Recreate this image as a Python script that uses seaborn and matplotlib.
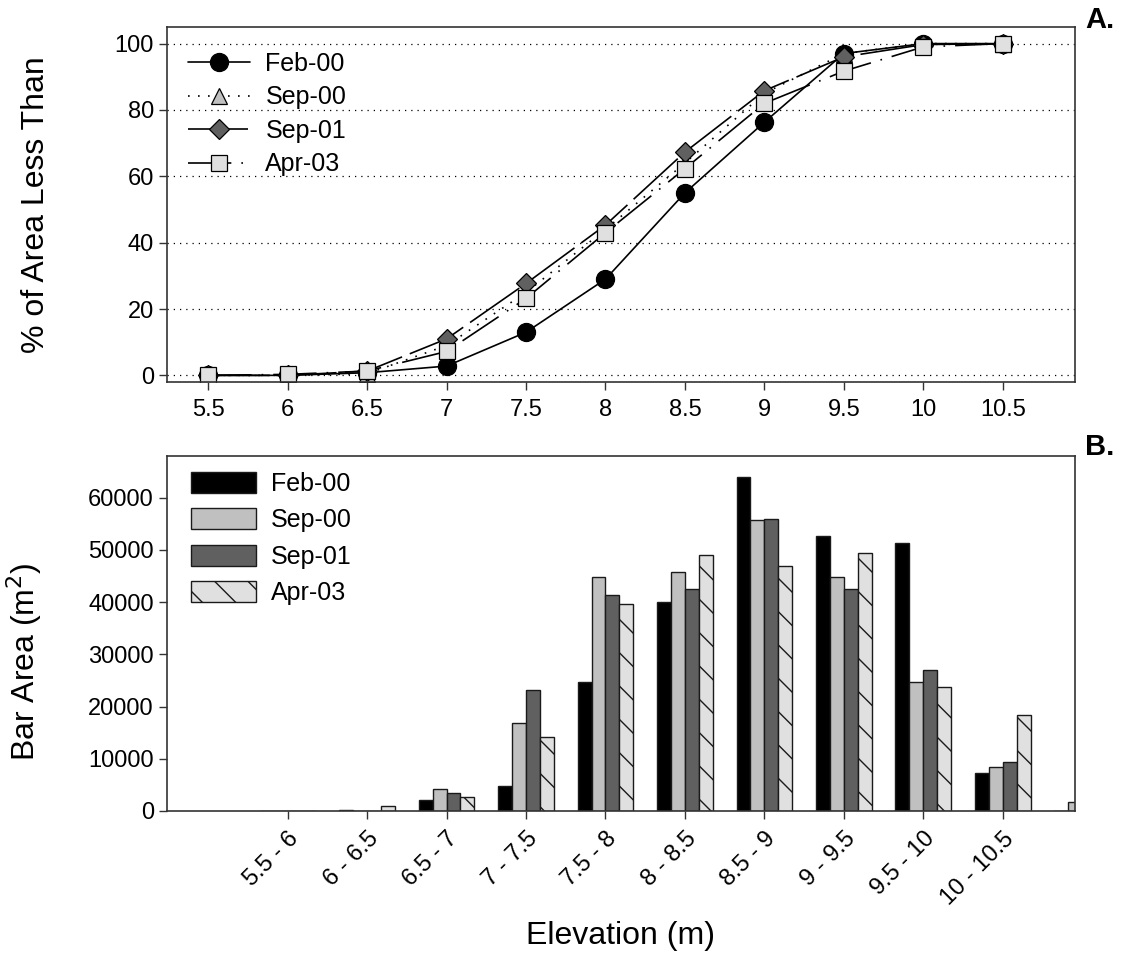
import matplotlib
matplotlib.use('Agg')
import matplotlib.pyplot as plt
import seaborn as sns
import pandas as pd
from matplotlib.patches import Patch
from matplotlib.lines import Line2D

surveys = ['Feb-00', 'Sep-00', 'Sep-01', 'Apr-03']

# A. cumulative % of bar area lower than each elevation
elevation = [5.5, 6, 6.5, 7, 7.5, 8, 8.5, 9, 9.5, 10, 10.5]
feb00_pct = [0, 0, 0.8, 2.8, 13, 29, 55, 76.3, 97, 100, 100]
sep00_pct = [0, 0, 0.5, 9, 25, 44, 64, 85, 97, 100, 100]
sep01_pct = [0, 0, 1.3, 11, 27.7, 45.3, 67.3, 85.8, 96, 99.7, 100]
apr03_pct = [0, 0.3, 1.3, 7.2, 23.2, 43, 62.3, 82, 91.7, 99, 100]

# B. bar area per 0.5 m elevation bin (bins placed at their upper bound)
bin_labels = ['5.5 - 6', '6 - 6.5', '6.5 - 7', '7 - 7.5', '7.5 - 8', '8 - 8.5',
              '8.5 - 9', '9 - 9.5', '9.5 - 10', '10 - 10.5', '10.5 - 11']
bin_top = [6, 6.5, 7, 7.5, 8, 8.5, 9, 9.5, 10, 10.5, 11]
feb00_area = [0, 200, 2100, 4800, 24700, 40000, 63900, 52700, 51400, 7300, 0]
sep00_area = [0, 0, 4200, 16800, 44800, 45800, 55700, 44900, 24800, 8400, 1800]
sep01_area = [0, 0, 3400, 23100, 41300, 42600, 55900, 42600, 27000, 9400, 0]
apr03_area = [0, 900, 2600, 14100, 39700, 49000, 46900, 49500, 23800, 18300, 0]

fills = ['#000000', '#c0c0c0', '#606060', '#e0e0e0']
edge = '#1a1a1a'

sns.set_theme(style='ticks')
plt.rcParams['font.family'] = ['Liberation Sans', 'DejaVu Sans']
plt.rcParams['text.color'] = 'black'
plt.rcParams['axes.labelcolor'] = 'black'
plt.rcParams['hatch.linewidth'] = 1.0
plt.rcParams['hatch.color'] = 'black'

fig = plt.figure(figsize=(11.22, 9.61), dpi=100)
ax1 = fig.add_axes([0.1488, 0.6025, 0.8093, 0.3694])
ax2 = fig.add_axes([0.1488, 0.1561, 0.8093, 0.3694])
xmin, xmax = 5.24, 10.955

# ---- panel A ----
line_styles = ['-', (0, (1, 5)), (0, (36, 5)), (0, (26, 6, 1, 6))]
markers = ['o', '^', 'D', 's']
msizes = [13, 11, 10, 11]
pct_series = [feb00_pct, sep00_pct, sep01_pct, apr03_pct]

for name, vals, ls, mk, ms, fc in zip(surveys, pct_series, line_styles, markers, msizes, fills):
    sns.lineplot(x=elevation, y=vals, ax=ax1, color='black', linestyle=ls, lw=1.2,
                 marker=mk, markersize=ms, markerfacecolor=fc, markeredgecolor='black',
                 markeredgewidth=0.9, label=name)

ax1.set_xlim(xmin, xmax)
ax1.set_ylim(-2, 105)
ax1.set_xticks(elevation)
ax1.set_xticklabels([f'{v:g}' for v in elevation])
ax1.set_yticks([0, 20, 40, 60, 80, 100])
ax1.yaxis.grid(True, linestyle=(0, (1, 4)), color='black', lw=0.9)
ax1.set_axisbelow(True)
ax1.set_ylabel('% of Area Less Than', fontsize=23)
ax1.yaxis.set_label_coords(-0.128, 0.5)
ax1.set_xlabel('')

h1 = [Line2D([0], [0], color='black', linestyle=ls, lw=1.2, marker=mk, markersize=ms,
             markerfacecolor=fc, markeredgecolor='black', markeredgewidth=0.9)
      for ls, mk, ms, fc in zip(line_styles, markers, msizes, fills)]
ax1.legend(h1, surveys, loc='upper left', bbox_to_anchor=(0.023, 0.93), frameon=False,
           fontsize=18, handlelength=2.5, handletextpad=0.6, labelspacing=0.38,
           borderpad=0, borderaxespad=0, numpoints=1)

# ---- panel B ----
area_df = pd.DataFrame({
    'bin_top': bin_top * 4,
    'area': feb00_area + sep00_area + sep01_area + apr03_area,
    'survey': [s for s in surveys for _ in bin_top],
})
sns.barplot(data=area_df, x='bin_top', y='area', hue='survey', hue_order=surveys,
            palette=dict(zip(surveys, fills)), native_scale=True, width=0.7,
            saturation=1, errorbar=None, edgecolor=edge, linewidth=1, ax=ax2, legend=False)
for bar in ax2.containers[3]:
    bar.set_hatch('\\')

shown = [(b, lab) for b, lab in zip(bin_top, bin_labels) if b < xmax]
ax2.set_xlim(xmin, xmax)
ax2.set_ylim(0, 68000)
ax2.set_xticks([b for b, _ in shown])
ax2.set_xticklabels([lab for _, lab in shown], rotation=45, ha='right', rotation_mode='anchor')
ax2.set_yticks(range(0, 60001, 10000))
ax2.set_ylabel('Bar Area (m$^2$)', fontsize=23)
ax2.yaxis.set_label_coords(-0.135, 0.42)
ax2.set_xlabel('Elevation (m)', fontsize=23)
ax2.xaxis.set_label_coords(0.5, -0.31)

h2 = [Patch(facecolor=fc, edgecolor=edge, hatch=h, lw=1)
      for fc, h in zip(fills, ['', '', '', '\\'])]
ax2.legend(h2, surveys, loc='upper left', bbox_to_anchor=(0.026, 0.955), frameon=False,
           fontsize=18, handlelength=2.6, handleheight=0.9, handletextpad=0.6,
           labelspacing=0.5, borderpad=0, borderaxespad=0)

for ax in (ax1, ax2):
    ax.tick_params(direction='out', length=6, width=1, color='#333333', labelsize=17,
                   labelcolor='black')
    ax.tick_params(axis='x', pad=6)
    for sp in ax.spines.values():
        sp.set_color('#333333')
        sp.set_linewidth(1.2)

fig.text(1085 / 1122, 1 - 28 / 961, 'A.', fontsize=21, fontweight='bold', ha='left', va='baseline')
fig.text(1085 / 1122, 1 - 455 / 961, 'B.', fontsize=21, fontweight='bold', ha='left', va='baseline')

fig.savefig('out.png', dpi=100)
